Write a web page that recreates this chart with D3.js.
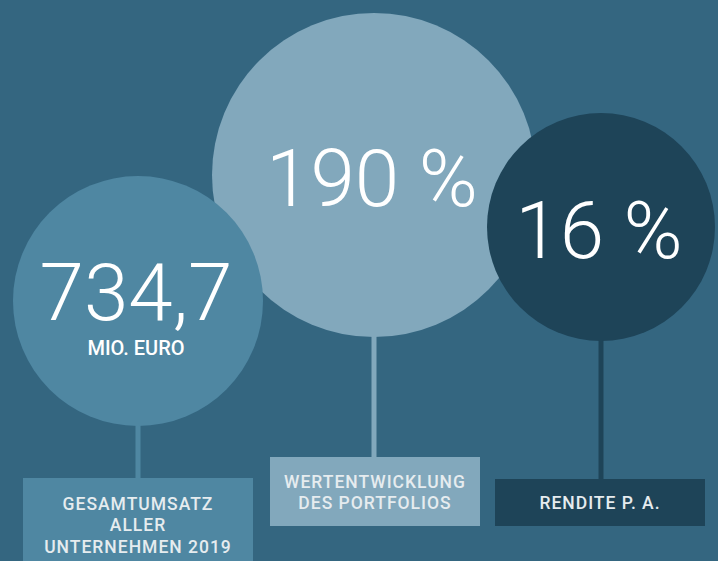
<!DOCTYPE html>
<html>
<head>
<meta charset="utf-8">
<script src="https://cdn.jsdelivr.net/npm/d3@7"></script>
<style>
  html, body { margin: 0; padding: 0; background: #346680; }
  svg { display: block; }
</style>
</head>
<body>
<svg width="718" height="561"></svg>
<script>
// Key figures (Kennzahlen)
const keys = ["umsatz", "portfolio", "rendite"];
const bigValues = ["734,7", "190 %", "16 %"];
const subValues = ["MIO. EURO", "", ""];
const labels = [
    ["GESAMTUMSATZ", "ALLER", "UNTERNEHMEN 2019"],
    ["WERTENTWICKLUNG", "DES PORTFOLIOS"],
    ["RENDITE P. A."]
];

// layout for each bubble (not data)
const layout = {
    umsatz:    { cx: 138, cy: 301, r: 125, fill: "#4f87a2", bx: 23,  by: 478, bw: 230, bh: 90, order: 1 },
    portfolio: { cx: 374, cy: 175, r: 162, fill: "#82a8bc", bx: 270, by: 457, bw: 210, bh: 69, order: 0 },
    rendite:   { cx: 601, cy: 227, r: 114, fill: "#1e4458", bx: 495, by: 479, bw: 210, bh: 47, order: 2 }
};

const svg = d3.select("svg");

let items = keys.map((k, i) => ({
    key: k, big: bigValues[i], sub: subValues[i], lines: labels[i], L: layout[k]
}));
// draw order: the big light one first so the others sit on top
items.sort((a, b) => a.L.order - b.L.order);

// stems + boxes
let g = svg.selectAll(".item")
    .data(items)
    .enter().append("g")
    .attr("class", "item");

g.append("rect")
    .attr("x", d => d.L.cx - 2.5)
    .attr("y", d => d.L.cy)
    .attr("width", 5)
    .attr("height", d => d.L.by - d.L.cy)
    .attr("fill", d => d.L.fill);

g.append("rect")
    .attr("x", d => d.L.bx)
    .attr("y", d => d.L.by)
    .attr("width", d => d.L.bw)
    .attr("height", d => d.L.bh)
    .attr("fill", d => d.L.fill);

g.append("circle")
    .attr("cx", d => d.L.cx)
    .attr("cy", d => d.L.cy)
    .attr("r", d => d.L.r)
    .attr("fill", d => d.L.fill);

// big numbers
g.append("text")
    .attr("x", d => d.L.cx - 2)
    .attr("y", d => d.key === "umsatz" ? d.L.cy + 19 : d.L.cy + 31)
    .attr("text-anchor", "middle")
    .attr("fill", "#ffffff")
    .attr("font-family", "Roboto, sans-serif")
    .attr("font-weight", 300)
    .attr("font-size", "80px")
    .text(d => d.big);

g.filter(d => d.sub !== "")
    .append("text")
    .attr("x", d => d.L.cx - 2)
    .attr("y", d => d.L.cy + 54)
    .attr("text-anchor", "middle")
    .attr("fill", "#ffffff")
    .attr("font-family", "Roboto, sans-serif")
    .attr("font-weight", 500)
    .attr("font-size", "20px")
    .text(d => d.sub);

// box labels
g.each(function (d) {
    let n = d.lines.length;
    let lh = 21.3;
    let firstY = n === 3 ? 510 : (n === 2 ? d.L.by + 31 : d.L.by + 30);
    d3.select(this).selectAll(".lbl")
        .data(d.lines)
        .enter().append("text")
        .attr("class", "lbl")
        .attr("x", d.L.bx + d.L.bw / 2)
        .attr("y", (t, i) => firstY + i * lh)
        .attr("text-anchor", "middle")
        .attr("fill", "#e6ecef")
        .attr("font-family", "Roboto, sans-serif")
        .attr("font-weight", 500)
        .attr("font-size", "17.5px")
        .attr("letter-spacing", "1px")
        .text(t => t);
});
</script>
</body>
</html>
